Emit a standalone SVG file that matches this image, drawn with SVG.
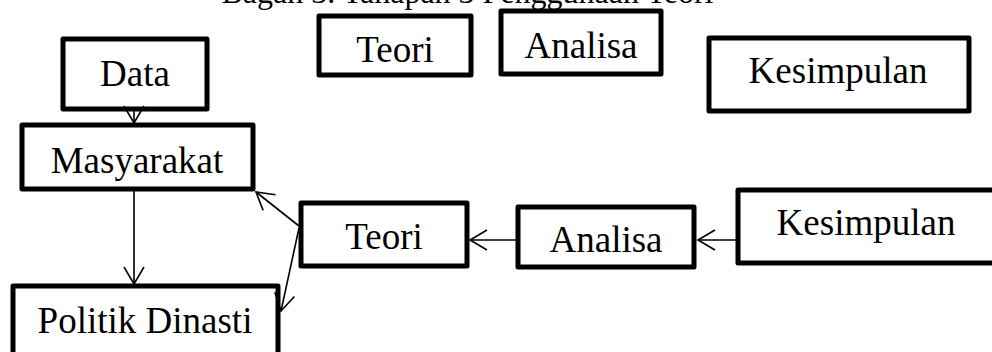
<svg xmlns="http://www.w3.org/2000/svg" width="992" height="352" viewBox="0 0 992 352">
  <style>
    .box { fill: #ffffff; stroke: #000000; stroke-width: 5; stroke-linejoin: round; }
    .lbl { font-family: "Liberation Serif", "Times New Roman", serif; font-size: 37px; fill: #000000; text-anchor: middle; }
    .title { font-family: "Liberation Serif", "Times New Roman", serif; font-size: 32px; fill: #000000; text-anchor: middle; }
    .conn { fill: none; stroke: #000000; stroke-width: 1.6; }
  </style>
  <defs>
    <marker id="open" viewBox="-19 -12 21 24" refX="0" refY="0" markerWidth="21" markerHeight="24" markerUnits="userSpaceOnUse" orient="auto" overflow="visible">
      <path d="M -17 -10 L 0 0 L -17 10" fill="none" stroke="#000000" stroke-width="1.6"/>
    </marker>
  </defs>
  <rect width="992" height="352" fill="#ffffff"/>
  <text class="title" x="467.5" y="3">Bagan 3. Tahapan 3 Penggunaan Teori</text>

  <g id="top-data">
    <rect class="box" x="63" y="39" width="144" height="70"/>
    <text class="lbl" x="135" y="86">Data</text>
  </g>
  <g id="top-teori">
    <rect class="box" x="319" y="16" width="152" height="59"/>
    <text class="lbl" x="395" y="62">Teori</text>
  </g>
  <g id="top-analisa">
    <rect class="box" x="501" y="11" width="160" height="63"/>
    <text class="lbl" x="581" y="58">Analisa</text>
  </g>
  <g id="top-kesimpulan">
    <rect class="box" x="709" y="38" width="260" height="73"/>
    <text class="lbl" x="838" y="83">Kesimpulan</text>
  </g>
  <g id="masyarakat">
    <rect class="box" x="22" y="125" width="231" height="64"/>
    <text class="lbl" x="137" y="173">Masyarakat</text>
  </g>
  <g id="politik-dinasti">
    <rect class="box" x="13" y="286" width="265" height="80"/>
    <text class="lbl" x="145" y="333">Politik Dinasti</text>
  </g>
  <g id="teori">
    <rect class="box" x="301" y="203" width="166" height="63"/>
    <text class="lbl" x="384" y="249">Teori</text>
  </g>
  <g id="analisa">
    <rect class="box" x="518" y="207" width="176" height="60"/>
    <text class="lbl" x="606" y="252">Analisa</text>
  </g>
  <g id="kesimpulan">
    <rect class="box" x="738" y="190" width="270" height="73"/>
    <text class="lbl" x="866" y="235">Kesimpulan</text>
  </g>

  <g id="connectors">
    <line class="conn" x1="134" y1="111" x2="134" y2="123" marker-end="url(#open)"/>
    <line class="conn" x1="134" y1="191" x2="134" y2="284" marker-end="url(#open)"/>
    <line class="conn" x1="299" y1="226" x2="256" y2="192" marker-end="url(#open)"/>
    <line class="conn" x1="299" y1="228" x2="281" y2="311" marker-end="url(#open)"/>
    <line class="conn" x1="516" y1="240" x2="470" y2="240" marker-end="url(#open)"/>
    <line class="conn" x1="736" y1="240" x2="698" y2="240" marker-end="url(#open)"/>
  </g>
</svg>
